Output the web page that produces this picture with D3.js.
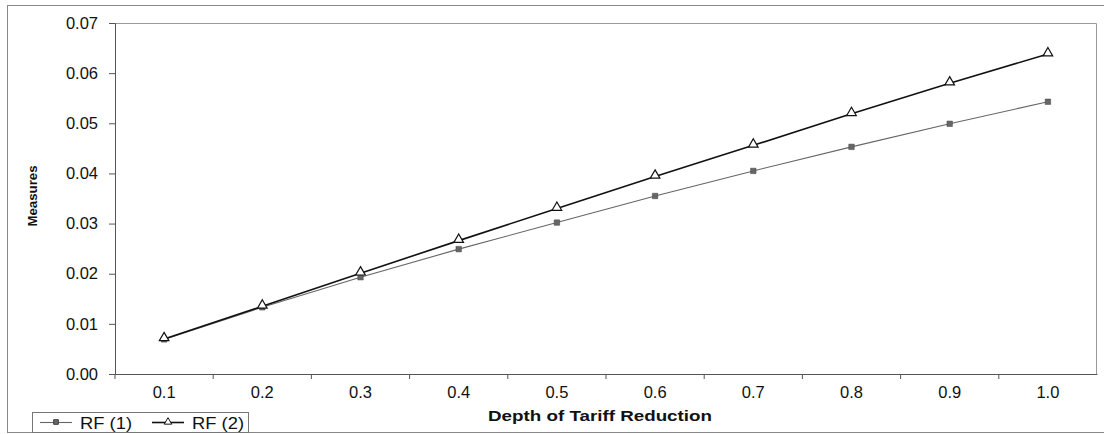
<!DOCTYPE html>
<html>
<head>
<meta charset="utf-8">
<script src="https://cdn.jsdelivr.net/npm/d3@7"></script>
<style>
  body { margin: 0; background: #fff; }
  text { font-family: "Liberation Sans", Arial, sans-serif; }
</style>
</head>
<body>
<div id="chart"></div>
<script>
const depths = ['0.1', '0.2', '0.3', '0.4', '0.5', '0.6', '0.7', '0.8', '0.9', '1.0'];
const rf1 = [0.0069, 0.0133, 0.0193, 0.0249, 0.0302, 0.0355, 0.0405, 0.0453, 0.0499, 0.0543];
const rf2 = [0.0070, 0.0135, 0.0201, 0.0266, 0.0330, 0.0394, 0.0456, 0.0519, 0.0580, 0.0638];
const yTicks = [0, 0.01, 0.02, 0.03, 0.04, 0.05, 0.06, 0.07];
const seriesNames = ['RF (1)', 'RF (2)'];

const width = 1104;
const height = 434;
const margin = {top: 23, bottom: 60, left: 115, right: 7};
const font = '"Liberation Sans", Arial, sans-serif';

const svg = d3.select('#chart')
  .append('svg')
  .attr('width', width)
  .attr('height', height);

// outer chart border
svg.append('rect')
  .attr('x', 7.5).attr('y', 5.5)
  .attr('width', width).attr('height', 427)
  .attr('fill', 'none').attr('stroke', '#888').attr('stroke-width', 1);

const x = d3.scaleBand()
  .domain(depths)
  .range([margin.left, width - margin.right]);

const y = d3.scaleLinear()
  .domain([0, 0.07])
  .range([height - margin.bottom, margin.top]);

// plot area border (top/right)
svg.append('path')
  .attr('d', `M${margin.left},${margin.top + 0.5}H${width - margin.right - 0.5}V${height - margin.bottom}`)
  .attr('fill', 'none').attr('stroke', '#999').attr('stroke-width', 1);

svg.append('g')
  .attr('transform', `translate(${margin.left},0)`)
  .call(d3.axisLeft(y).tickValues(yTicks).tickFormat(d3.format('.2f')).tickSize(6).tickPadding(11))
  .call(g => g.select('.domain').attr('stroke', '#555'))
  .call(g => g.selectAll('.tick line').attr('stroke', '#555'))
  .call(g => g.selectAll('text').attr('font-size', 16.5).attr('fill', '#111').attr('font-family', font));

svg.append('g')
  .attr('transform', `translate(0,${height - margin.bottom})`)
  .call(d3.axisBottom(x).tickSize(0).tickPadding(12))
  .call(g => g.select('.domain').attr('stroke', '#555'))
  .call(g => g.selectAll('text').attr('font-size', 16.5).attr('fill', '#111').attr('font-family', font));

// tick marks between categories
svg.append('g')
  .selectAll('line')
  .data(depths)
  .join('line')
  .attr('x1', d => x(d)).attr('x2', d => x(d))
  .attr('y1', height - margin.bottom).attr('y2', height - margin.bottom + 5)
  .attr('stroke', '#555');

svg.append('text')
  .attr('x', 600)
  .attr('y', 421)
  .attr('text-anchor', 'middle')
  .attr('font-size', 15.5).attr('font-weight', 'bold').attr('fill', '#111')
  .attr('textLength', 224).attr('lengthAdjust', 'spacingAndGlyphs')
  .text('Depth of Tariff Reduction');

svg.append('text')
  .attr('transform', 'translate(37,196) rotate(-90)')
  .attr('text-anchor', 'middle')
  .attr('font-size', 13).attr('font-weight', 'bold').attr('fill', '#111')
  .attr('textLength', 61).attr('lengthAdjust', 'spacingAndGlyphs')
  .text('Measures');

const cx = d => x(d) + x.bandwidth() / 2;
const line = d3.line().x(d => cx(d[0])).y(d => y(d[1]));

const s1 = depths.map((d, i) => [d, rf1[i]]);
const s2 = depths.map((d, i) => [d, rf2[i]]);

svg.append('path').datum(s1).attr('d', line)
  .attr('fill', 'none').attr('stroke', '#666').attr('stroke-width', 1.1);
svg.append('path').datum(s2).attr('d', line)
  .attr('fill', 'none').attr('stroke', '#111').attr('stroke-width', 1.6);

const sq = d3.symbol().type(d3.symbolSquare).size(30);
const tri = d3.symbol().type(d3.symbolTriangle).size(40);
const sqSmall = d3.symbol().type(d3.symbolSquare).size(22);
const triSmall = d3.symbol().type(d3.symbolTriangle).size(24);

svg.append('g').selectAll('path').data(s1).join('path')
  .attr('d', sq)
  .attr('transform', d => `translate(${cx(d[0])},${y(d[1])})`)
  .attr('fill', '#666').attr('stroke', '#444').attr('stroke-width', 0.5);

svg.append('g').selectAll('path').data(s2).join('path')
  .attr('d', tri)
  .attr('transform', d => `translate(${cx(d[0])},${y(d[1]) - 1})`)
  .attr('fill', '#fff').attr('stroke', '#111').attr('stroke-width', 1.2);

// legend
const legend = svg.append('g');
legend.append('rect')
  .attr('x', 32.5).attr('y', 412.5).attr('width', 216).attr('height', 20)
  .attr('fill', '#fff').attr('stroke', '#777');

const legendItems = [
  {name: seriesNames[0], x0: 40, sym: sqSmall, fill: '#666', stroke: '#444', lc: '#666', lw: 1.1},
  {name: seriesNames[1], x0: 152, sym: triSmall, fill: '#fff', stroke: '#111', lc: '#111', lw: 1.6}
];
legendItems.forEach(it => {
  legend.append('line')
    .attr('x1', it.x0).attr('x2', it.x0 + 32).attr('y1', 422.5).attr('y2', 422.5)
    .attr('stroke', it.lc).attr('stroke-width', it.lw);
  legend.append('path').attr('d', it.sym)
    .attr('transform', `translate(${it.x0 + 16},422)`)
    .attr('fill', it.fill).attr('stroke', it.stroke);
  legend.append('text')
    .attr('x', it.x0 + 40).attr('y', 428.5)
    .attr('font-size', 17).attr('fill', '#111')
    .attr('textLength', 52).attr('lengthAdjust', 'spacingAndGlyphs')
    .text(it.name);
});
</script>
</body>
</html>
